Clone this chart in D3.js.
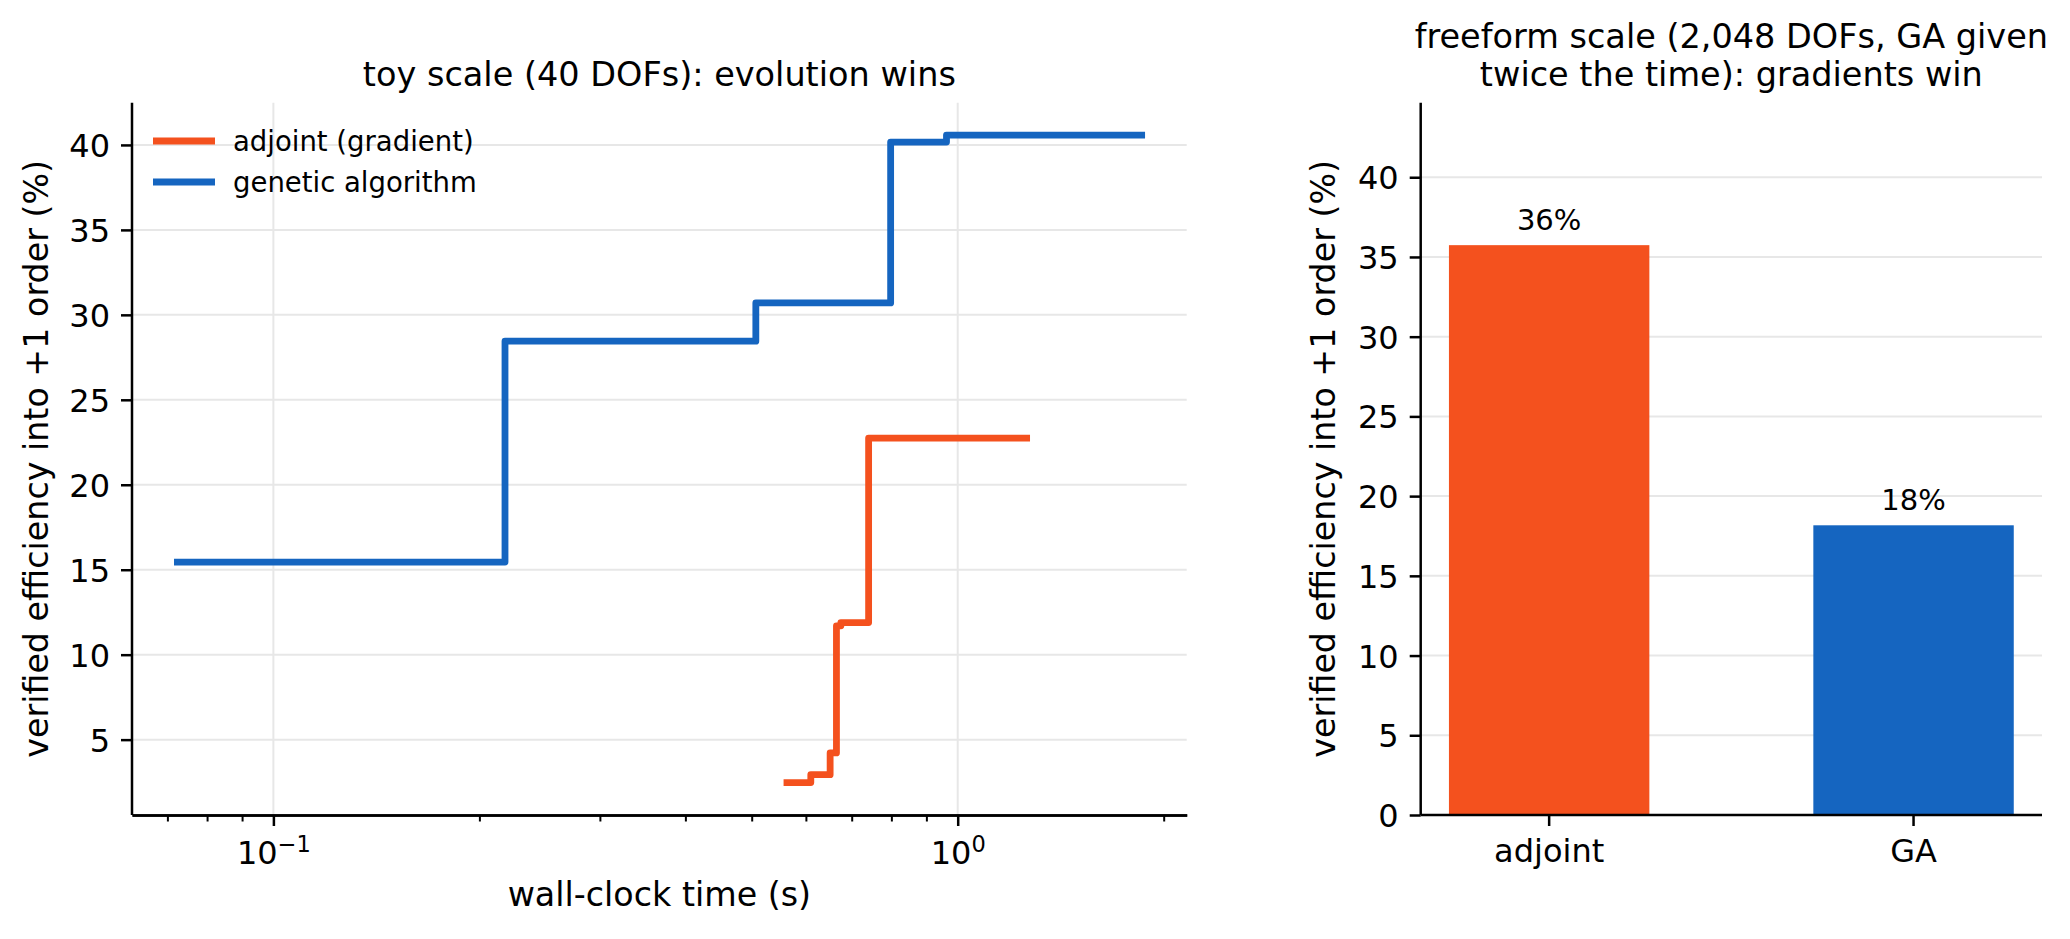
<!DOCTYPE html>
<html>
<head>
<meta charset="utf-8">
<script src="https://cdn.jsdelivr.net/npm/d3@7"></script>
<style>
body { margin:0; background:#fff; }
svg { font-family:"DejaVu Sans", sans-serif; }
</style>
</head>
<body>
<svg id="fig"></svg>
<script>
// toy scale (40 DOFs): best verified efficiency so far vs wall-clock time
let adjTime = [0.563, 0.610, 0.651, 0.665, 0.675, 0.741, 1.261]
let adjEff  = [2.47, 2.94, 4.22, 11.70, 11.89, 22.75, 22.75]
let gaTime  = [0.0724, 0.218, 0.507, 0.798, 0.963, 1.857]
let gaEff   = [15.45, 28.45, 30.70, 40.17, 40.58, 40.58]
let seriesNames = ["adjoint (gradient)", "genetic algorithm"]

// freeform scale (2,048 DOFs)
let methods = ["adjoint", "GA"]
let finalEff = [35.74, 18.17]
let barLabels = ["36%", "18%"]

let toyTicks = [5, 10, 15, 20, 25, 30, 35, 40]
let freeTicks = [0, 5, 10, 15, 20, 25, 30, 35, 40]
let timeMajor = [0.1, 1]
let timeMinor = [0.07, 0.08, 0.09, 0.2, 0.3, 0.4, 0.5, 0.6, 0.7, 0.8, 0.9, 2]

let orange = "#F4511E"
let blue = "#1565C0"
let gridc = "#e7e7e7"

let w = 2070
let h = 939

let svg = d3.select("#fig").attr("width", w).attr("height", h)

// axes boxes
let toyBox = {left:132, right:1186.7, top:102.7, bottom:815}
let freeBox = {left:1420.7, right:2042, top:102.7, bottom:815}

let tickFont = 32
let labelFont = 33.3
let titleFont = 33.5

toy_steps()
free_bars()

function style_axis(g, fs) {
    g.selectAll(".domain").attr("stroke", "#000").attr("stroke-width", 2.5)
    g.selectAll(".tick line").attr("stroke", "#000").attr("stroke-width", 2.5)
    g.selectAll(".tick text").attr("fill", "#000").style("font-size", fs + "px")
        .style("font-family", "DejaVu Sans")
}

function toy_steps() {
    let b = toyBox
    let xscale = d3.scaleLog()
        .domain([0.06214, 2.161])
        .range([b.left, b.right])
    let yscale = d3.scaleLinear()
        .domain([0.5645, 42.4855])
        .range([b.bottom, b.top])

    let g = svg.append("g")

    // grid
    g.append("g").selectAll("line").data(toyTicks).enter().append("line")
        .attr("x1", b.left).attr("x2", b.right)
        .attr("y1", d => yscale(d)).attr("y2", d => yscale(d))
        .attr("stroke", gridc).attr("stroke-width", 2)
    g.append("g").selectAll("line").data(timeMajor).enter().append("line")
        .attr("x1", d => xscale(d)).attr("x2", d => xscale(d))
        .attr("y1", b.top).attr("y2", b.bottom)
        .attr("stroke", gridc).attr("stroke-width", 2)

    // step lines
    let line = d3.line()
        .x(d => xscale(d[0]))
        .y(d => yscale(d[1]))
        .curve(d3.curveStepAfter)
    let adj = adjTime.map((t, i) => [t, adjEff[i]])
    let ga = gaTime.map((t, i) => [t, gaEff[i]])
    g.append("path").datum(adj).attr("d", line)
        .attr("fill", "none").attr("stroke", orange).attr("stroke-width", 6.8)
        .attr("stroke-linejoin", "round").attr("stroke-linecap", "square")
    g.append("path").datum(ga).attr("d", line)
        .attr("fill", "none").attr("stroke", blue).attr("stroke-width", 6.8)
        .attr("stroke-linejoin", "round").attr("stroke-linecap", "square")

    // y axis
    let yaxis = d3.axisLeft(yscale).tickValues(toyTicks).tickSize(11).tickPadding(11).tickSizeOuter(0)
    let yaxisg = g.append("g").attr("transform", `translate(${b.left},0)`).call(yaxis)
    style_axis(yaxisg, tickFont)
    yaxisg.selectAll(".tick text").attr("dy", "0.36em")
    yaxisg.select(".domain").attr("d", `M0,${b.top}V${b.bottom}`)

    // x axis, minor ticks then major with 10^n labels
    let minor = d3.axisBottom(xscale).tickValues(timeMinor).tickSize(6.5).tickFormat("").tickSizeOuter(0)
    let minorg = g.append("g").attr("transform", `translate(0,${b.bottom})`).call(minor)
    style_axis(minorg, tickFont)
    minorg.selectAll(".tick line").attr("stroke-width", 2)

    let xaxis = d3.axisBottom(xscale).tickValues(timeMajor).tickSize(11).tickSizeOuter(0)
    let xaxisg = g.append("g").attr("transform", `translate(0,${b.bottom})`).call(xaxis)
    style_axis(xaxisg, tickFont)
    xaxisg.selectAll(".tick text").each(function(d) {
        let t = d3.select(this).text("").attr("y", 49).attr("dy", null)
        t.append("tspan").text("10")
        t.append("tspan").text(d3.format("d")(Math.round(Math.log10(d))).replace("-", "\u2212"))
            .attr("dy", -12).style("font-size", "22.5px")
    })

    // labels
    g.append("text").text("wall-clock time (s)")
        .attr("x", (b.left + b.right) / 2).attr("y", 906)
        .attr("text-anchor", "middle").style("font-size", labelFont + "px")
    g.append("text").text("verified efficiency into +1 order (%)")
        .attr("transform", `translate(48,${(b.top + b.bottom) / 2}) rotate(-90)`)
        .attr("text-anchor", "middle").style("font-size", labelFont + "px")
    g.append("text").text("toy scale (40 DOFs): evolution wins")
        .attr("x", (b.left + b.right) / 2).attr("y", 86)
        .attr("text-anchor", "middle").style("font-size", titleFont + "px")

    // legend
    let leg = g.append("g").selectAll("g").data(seriesNames).enter().append("g")
        .attr("transform", (d, i) => `translate(153,${141 + i * 41})`)
    leg.append("line").attr("x1", 0).attr("x2", 62)
        .attr("stroke", (d, i) => i == 0 ? orange : blue).attr("stroke-width", 6.8)
    leg.append("text").text(d => d).attr("x", 80).attr("y", 10)
        .style("font-size", "27.5px")
}

function free_bars() {
    let b = freeBox
    let xscale = d3.scaleBand()
        .domain(methods)
        .range([b.left, b.right])
        .paddingInner(0.45)
        .paddingOuter(0.0775)
    let yscale = d3.scaleLinear()
        .domain([0, d3.max(finalEff) * 1.25])
        .range([b.bottom, b.top])

    let g = svg.append("g")

    g.append("g").selectAll("line").data(freeTicks.slice(1)).enter().append("line")
        .attr("x1", b.left).attr("x2", b.right)
        .attr("y1", d => yscale(d)).attr("y2", d => yscale(d))
        .attr("stroke", gridc).attr("stroke-width", 2)

    let bars = g.append("g").selectAll("g").data(methods).enter().append("g")
        .attr("transform", (d, i) => `translate(${xscale(d)},${yscale(finalEff[i])})`)
    bars.append("rect")
        .attr("width", xscale.bandwidth())
        .attr("height", (d, i) => b.bottom - yscale(finalEff[i]))
        .style("fill", (d, i) => i == 0 ? orange : blue)
    bars.append("text").text((d, i) => barLabels[i])
        .attr("x", xscale.bandwidth() / 2).attr("y", -15)
        .attr("text-anchor", "middle").style("font-size", "29px")

    let yaxis = d3.axisLeft(yscale).tickValues(freeTicks).tickSize(11).tickPadding(11).tickSizeOuter(0)
    let yaxisg = g.append("g").attr("transform", `translate(${b.left},0)`).call(yaxis)
    style_axis(yaxisg, tickFont)
    yaxisg.selectAll(".tick text").attr("dy", "0.36em")
    yaxisg.select(".domain").attr("d", `M0,${b.top}V${b.bottom}`)

    let xaxis = d3.axisBottom(xscale).tickSize(11).tickSizeOuter(0)
    let xaxisg = g.append("g").attr("transform", `translate(0,${b.bottom})`).call(xaxis)
    style_axis(xaxisg, tickFont)
    xaxisg.selectAll(".tick text").attr("y", 47).attr("dy", null)
    xaxisg.select(".domain").attr("d", `M${b.left},0H${b.right}`)

    g.append("text").text("verified efficiency into +1 order (%)")
        .attr("transform", `translate(1335,${(b.top + b.bottom) / 2}) rotate(-90)`)
        .attr("text-anchor", "middle").style("font-size", labelFont + "px")

    let title = g.append("text").attr("text-anchor", "middle").style("font-size", titleFont + "px")
    title.append("tspan").text("freeform scale (2,048 DOFs, GA given")
        .attr("x", (b.left + b.right) / 2).attr("y", 48)
    title.append("tspan").text("twice the time): gradients win")
        .attr("x", (b.left + b.right) / 2).attr("y", 86)
}
</script>
</body>
</html>
